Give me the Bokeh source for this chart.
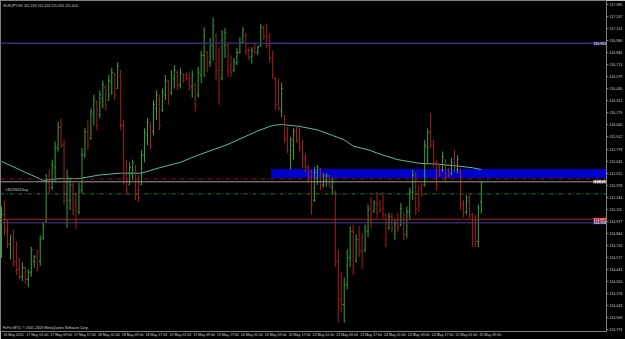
from bokeh.plotting import figure
from bokeh.models import (Range1d, LinearAxis, FixedTicker, Span, Label,
                          ColumnDataSource, PrintfTickFormatter)
from bokeh.embed import file_html
from bokeh.resources import INLINE
from bokeh.core.properties import value

# ---------------- data (EURJPY, H1 bars) ----------------
high = [
    115.14, 115.21, 114.99, 114.83, 114.88, 114.75, 114.57, 114.52, 114.47, 114.44,
    114.69, 114.60, 114.66, 114.82, 114.97, 115.50, 115.55, 115.66, 115.86, 116.08,
    116.12, 115.88, 115.55, 115.46, 115.40, 115.29, 115.40, 115.79, 116.01, 116.10,
    116.23, 116.38, 116.32, 116.43, 116.54, 116.49, 116.60, 116.68, 116.63, 116.74,
    116.65, 116.10, 115.66, 115.63, 115.66, 115.60, 115.49, 115.77, 116.01, 116.12,
    116.08, 116.32, 116.43, 116.38, 116.45, 116.60, 116.54, 116.65, 116.71, 116.65,
    116.68, 116.62, 116.63, 116.63, 116.65, 116.51, 116.69, 116.87, 117.13, 116.87,
    117.01, 117.24, 117.06, 116.91, 117.10, 117.12, 116.96, 116.82, 116.79, 116.90,
    117.02, 117.13, 117.07, 116.91, 116.91, 116.95, 116.93, 117.17, 117.15, 117.17,
    117.06, 116.87, 116.58, 116.56, 116.52, 116.16, 116.02, 115.91, 116.01, 116.04,
    116.02, 115.88, 115.73, 115.60, 115.55, 115.58, 115.60, 115.57, 115.51, 115.51,
    115.49, 115.46, 115.32, 114.66, 114.41, 114.35, 114.66, 114.92, 114.94, 114.83,
    114.92, 114.85, 114.94, 115.16, 115.24, 115.21, 115.30, 115.21, 115.30, 115.05,
    115.07, 115.07, 114.99, 115.07, 115.18, 115.07, 115.14, 115.35, 115.55, 115.52,
    115.38, 115.40, 115.88, 116.01, 116.18, 115.88, 115.66, 115.62, 115.75, 115.66,
    115.57, 115.68, 115.77, 115.71, 115.55, 115.21, 115.27, 115.27, 115.07, 115.05,
    115.16, 115.42]
low = [
    114.57, 114.82, 114.68, 114.55, 114.47, 114.38, 114.33, 114.31, 114.28, 114.24,
    114.36, 114.46, 114.42, 114.48, 114.77, 114.97, 115.29, 115.32, 115.41, 115.75,
    115.79, 115.16, 114.90, 115.10, 115.04, 114.89, 115.05, 115.29, 115.68, 115.77,
    115.88, 116.04, 115.99, 116.12, 116.23, 116.21, 116.32, 116.38, 116.32, 116.45,
    115.99, 115.38, 115.27, 115.38, 115.43, 115.21, 115.19, 115.38, 115.63, 115.82,
    115.77, 115.93, 116.10, 115.99, 116.19, 116.32, 116.27, 116.38, 116.45, 116.43,
    116.45, 116.51, 116.54, 116.43, 116.35, 116.19, 116.35, 116.51, 116.58, 116.63,
    116.69, 116.76, 116.54, 116.27, 116.54, 116.79, 116.58, 116.58, 116.63, 116.71,
    116.84, 116.95, 116.82, 116.76, 116.73, 116.84, 116.82, 116.91, 116.99, 116.90,
    116.74, 116.56, 116.21, 116.21, 116.13, 115.85, 115.73, 115.55, 115.66, 115.85,
    115.75, 115.57, 115.52, 115.40, 115.05, 115.19, 115.38, 115.32, 115.35, 115.36,
    115.35, 115.27, 114.47, 113.85, 113.96, 113.85, 114.22, 114.47, 114.38, 114.52,
    114.58, 114.44, 114.63, 114.80, 114.90, 115.07, 115.01, 115.07, 115.01, 114.69,
    114.88, 114.85, 114.77, 114.86, 114.92, 114.77, 114.79, 114.99, 115.21, 115.05,
    115.08, 115.25, 115.36, 115.62, 115.79, 115.57, 115.32, 115.47, 115.52, 115.41,
    115.46, 115.49, 115.52, 115.51, 115.10, 115.02, 115.05, 115.01, 114.69, 114.69,
    114.69, 115.06]
opens = [
    114.66, 115.05, 114.88, 114.72, 114.79, 114.53, 114.44, 114.36, 114.46, 114.33,
    114.41, 114.53, 114.58, 114.53, 114.79, 114.97, 115.43, 115.35, 115.57, 115.79,
    116.02, 115.82, 115.21, 115.21, 115.38, 115.16, 115.08, 115.32, 115.71, 115.97,
    115.90, 116.16, 116.30, 116.16, 116.34, 116.47, 116.32, 116.52, 116.60, 116.45,
    116.65, 116.04, 115.49, 115.38, 115.49, 115.58, 115.32, 115.38, 115.71, 115.93,
    116.04, 115.97, 116.23, 116.34, 116.21, 116.38, 116.52, 116.40, 116.56, 116.63,
    116.49, 116.61, 116.60, 116.56, 116.47, 116.49, 116.38, 116.60, 116.82, 116.85,
    116.74, 116.93, 117.04, 116.65, 116.56, 116.93, 116.93, 116.71, 116.65, 116.74,
    116.85, 116.96, 117.04, 116.87, 116.80, 116.90, 116.85, 116.93, 117.12, 117.03,
    116.93, 116.79, 116.56, 116.32, 116.21, 116.12, 115.90, 115.71, 115.82, 115.99,
    115.90, 115.79, 115.68, 115.57, 115.46, 115.21, 115.46, 115.55, 115.38, 115.43,
    115.48, 115.35, 115.30, 114.53, 114.11, 114.05, 114.27, 114.57, 114.86, 114.53,
    114.77, 114.64, 114.66, 114.86, 115.12, 115.08, 115.18, 115.16, 115.12, 115.05,
    114.90, 115.03, 114.83, 114.97, 114.93, 115.07, 114.83, 115.08, 115.30, 115.49,
    115.27, 115.38, 115.38, 115.79, 115.97, 115.82, 115.63, 115.57, 115.55, 115.66,
    115.55, 115.50, 115.66, 115.55, 115.52, 115.16, 115.08, 115.24, 115.05, 114.94,
    114.75, 115.19]
closes = [
    115.05, 114.88, 114.72, 114.79, 114.53, 114.44, 114.36, 114.46, 114.33, 114.41,
    114.66, 114.58, 114.46, 114.77, 114.93, 115.43, 115.35, 115.60, 115.79, 116.02,
    115.82, 115.27, 115.46, 115.38, 115.10, 114.97, 115.32, 115.71, 115.97, 115.82,
    116.19, 116.32, 116.04, 116.38, 116.49, 116.27, 116.54, 116.63, 116.38, 116.70,
    116.04, 115.46, 115.32, 115.57, 115.63, 115.27, 115.24, 115.71, 115.96, 116.08,
    115.82, 116.27, 116.38, 116.04, 116.41, 116.54, 116.32, 116.60, 116.65, 116.49,
    116.63, 116.54, 116.56, 116.49, 116.60, 116.27, 116.63, 116.82, 117.04, 116.71,
    116.96, 117.15, 116.65, 116.38, 116.99, 117.07, 116.65, 116.63, 116.74, 116.85,
    116.96, 117.10, 116.87, 116.80, 116.87, 116.85, 116.91, 117.13, 117.03, 116.93,
    116.79, 116.60, 116.27, 116.23, 116.45, 115.88, 115.77, 115.88, 115.97, 115.88,
    115.79, 115.66, 115.57, 115.46, 115.16, 115.52, 115.57, 115.38, 115.48, 115.48,
    115.38, 115.41, 114.53, 114.11, 114.05, 114.27, 114.57, 114.86, 114.49, 114.77,
    114.64, 114.53, 114.88, 115.10, 114.97, 115.18, 115.08, 115.10, 115.05, 114.77,
    115.03, 114.90, 114.95, 114.90, 115.12, 114.83, 115.08, 115.30, 115.49, 115.12,
    115.16, 115.27, 115.82, 115.96, 115.82, 115.63, 115.38, 115.49, 115.69, 115.46,
    115.48, 115.63, 115.57, 115.66, 115.16, 115.07, 115.21, 115.05, 114.77, 114.75,
    115.12, 115.41]

# moving average (read at some bars)
ma_bars = [0, 6, 14, 20, 26, 33, 40, 47, 53, 60, 66, 76, 86, 91, 94, 100, 106, 111,
           115, 118, 123, 128, 133, 140, 146, 153, 158, 161]
ma_values = [115.64, 115.55, 115.43, 115.45, 115.45, 115.49, 115.51, 115.51, 115.57,
             115.63, 115.71, 115.83, 115.98, 116.04, 116.05, 116.03, 115.99, 115.93,
             115.88, 115.81, 115.77, 115.71, 115.66, 115.62, 115.61, 115.59, 115.57,
             115.55]

# time axis labels (bar number -> label)
date_tick_bars = [0, 8, 16, 24, 32, 40, 48, 56, 64, 72, 80, 88, 96, 104, 112, 120,
                  128, 136, 144, 152, 160]
date_tick_labels = ["16 May 2011", "17 May 01:00", "17 May 09:00", "17 May 17:00",
                    "18 May 01:00", "18 May 09:00", "18 May 17:00", "19 May 01:00",
                    "19 May 09:00", "19 May 17:00", "20 May 01:00", "20 May 09:00",
                    "20 May 17:00", "23 May 01:00", "23 May 09:00", "23 May 17:00",
                    "24 May 01:00", "24 May 09:00", "24 May 17:00", "25 May 01:00",
                    "25 May 09:00"]

# price axis labels
price_ticks = [117.380, 117.247, 117.113, 116.980, 116.846, 116.713, 116.579, 116.446,
               116.312, 116.179, 116.045, 115.912, 115.778, 115.645, 115.511, 115.378,
               115.244, 115.111, 114.977, 114.844, 114.710, 114.577, 114.443, 114.310,
               114.176, 114.043, 113.909, 113.776]

# horizontal objects
level_top = 116.952
level_red_dashdot = 115.446
bid_price = 115.414
buy_price = 115.280
stop_red = 114.997
level_purple = 114.958
zone_start_bar = 90.5
zone_end_bar = 230
zone_bottom = 115.457
zone_top = 115.556

title_text = "EURJPY,H1  115.193 115.424 115.055 115.414"
order_text = "#4529603 buy"
copyright_text = "FxPro MT4, \u00a9 2001-2009 MetaQuotes Software Corp."

# ---------------- styling ----------------
BULL = "#35a535"
BEAR = "#a81e1e"
AXIS = "#808080"
LBL = "#d0d0d0"
FONT = "Liberation Sans"
FS = "3.6px"

n = len(high)
idx = list(range(n))
colors = [BULL if c >= o else BEAR for o, c in zip(opens, closes)]
src = ColumnDataSource(dict(
    x=idx, xl=[i - 0.42 for i in idx], xr=[i + 0.42 for i in idx],
    h=high, l=low, o=opens, c=closes, col=colors))

p = figure(width=625, height=339, output_backend="svg", toolbar_location=None,
           x_range=Range1d(-0.33, 203.0), y_range=Range1d(113.751, 117.428),
           background_fill_color="black", border_fill_color="black",
           min_border_left=0, min_border_right=13, min_border_top=0,
           min_border_bottom=7, x_axis_location=None, y_axis_location=None)
p.outline_line_color = AXIS
p.outline_line_width = 1
p.xgrid.visible = False
p.ygrid.visible = False

# zone rectangle
p.quad(left=[zone_start_bar], right=[zone_end_bar], bottom=[zone_bottom],
       top=[zone_top], fill_color="#0000c8", line_color=None)

# horizontal lines
p.add_layout(Span(location=level_top, dimension="width", line_color="#3a2a78", line_width=1.5))
p.add_layout(Span(location=level_red_dashdot, dimension="width", line_color="#8c1c1c",
                  line_width=1, line_dash="4 2 1 2"))
p.add_layout(Span(location=bid_price, dimension="width", line_color="#9a9a9a", line_width=1))
p.add_layout(Span(location=buy_price, dimension="width", line_color="#2f7a2f",
                  line_width=1, line_dash="4 2 1 2"))
p.add_layout(Span(location=stop_red, dimension="width", line_color="#b02020", line_width=1))
p.add_layout(Span(location=level_purple, dimension="width", line_color="#4a3c90", line_width=1))

# moving average
p.line(ma_bars, ma_values, line_color="#5ab8a8", line_width=1)

# OHLC bars
p.segment(x0="x", y0="l", x1="x", y1="h", source=src, line_color="col", line_width=1)
p.segment(x0="xl", y0="o", x1="x", y1="o", source=src, line_color="col", line_width=1)
p.segment(x0="x", y0="c", x1="xr", y1="c", source=src, line_color="col", line_width=1)

# texts
p.text(x=[0.7], y=[117.388], text=[title_text], text_font=value(FONT),
       text_font_size=value(FS), text_color=LBL, text_baseline="top", text_align="left")
p.text(x=[1.3], y=[buy_price + 0.02], text=[order_text], text_font=value(FONT),
       text_font_size=value(FS), text_color=LBL, text_baseline="bottom", text_align="left")
p.text(x=[0.4], y=[113.765], text=[copyright_text], text_font=value(FONT),
       text_font_size=value(FS), text_color=LBL, text_baseline="bottom", text_align="left")

# price tags at the right edge of the chart
tag_prices = [level_top, bid_price, stop_red, level_purple]
tag_bg = ["#3a2a78", "#ffffff", "#d01010", "#4a3c90"]
tag_fg = ["#ffffff", "#000000", "#ffffff", "#ffffff"]
for price, bg, fg in zip(tag_prices, tag_bg, tag_fg):
    p.add_layout(Label(x=202.9, x_units="data", y=price, y_units="data",
                       text="%.3f" % price, text_font=FONT, text_font_size=FS,
                       text_color=fg, text_baseline="middle", text_align="right",
                       background_fill_color=bg, background_fill_alpha=1.0))

# axes
label_pos = [b + 4 for b in date_tick_bars]
xaxis = LinearAxis(ticker=FixedTicker(ticks=label_pos, minor_ticks=[]))
xaxis.major_label_overrides = {pos: lab for pos, lab in zip(label_pos, date_tick_labels)}
xaxis.axis_line_color = AXIS
xaxis.major_tick_out = 0
xaxis.major_tick_in = 0
xaxis.minor_tick_out = 0
xaxis.minor_tick_in = 0
xaxis.major_label_standoff = 1
xaxis.major_label_text_font = FONT
xaxis.major_label_text_font_size = FS
xaxis.major_label_text_color = LBL
p.add_layout(xaxis, "below")

yaxis = LinearAxis(ticker=FixedTicker(ticks=price_ticks, minor_ticks=[]),
                   formatter=PrintfTickFormatter(format="%.3f"))
yaxis.axis_line_color = AXIS
yaxis.major_tick_line_color = AXIS
yaxis.major_tick_out = 2
yaxis.major_tick_in = 0
yaxis.minor_tick_out = 0
yaxis.minor_tick_in = 0
yaxis.major_label_standoff = 1
yaxis.major_label_text_font = FONT
yaxis.major_label_text_font_size = FS
yaxis.major_label_text_color = LBL
p.add_layout(yaxis, "right")

open("out.html", "w").write(file_html(p, INLINE))
